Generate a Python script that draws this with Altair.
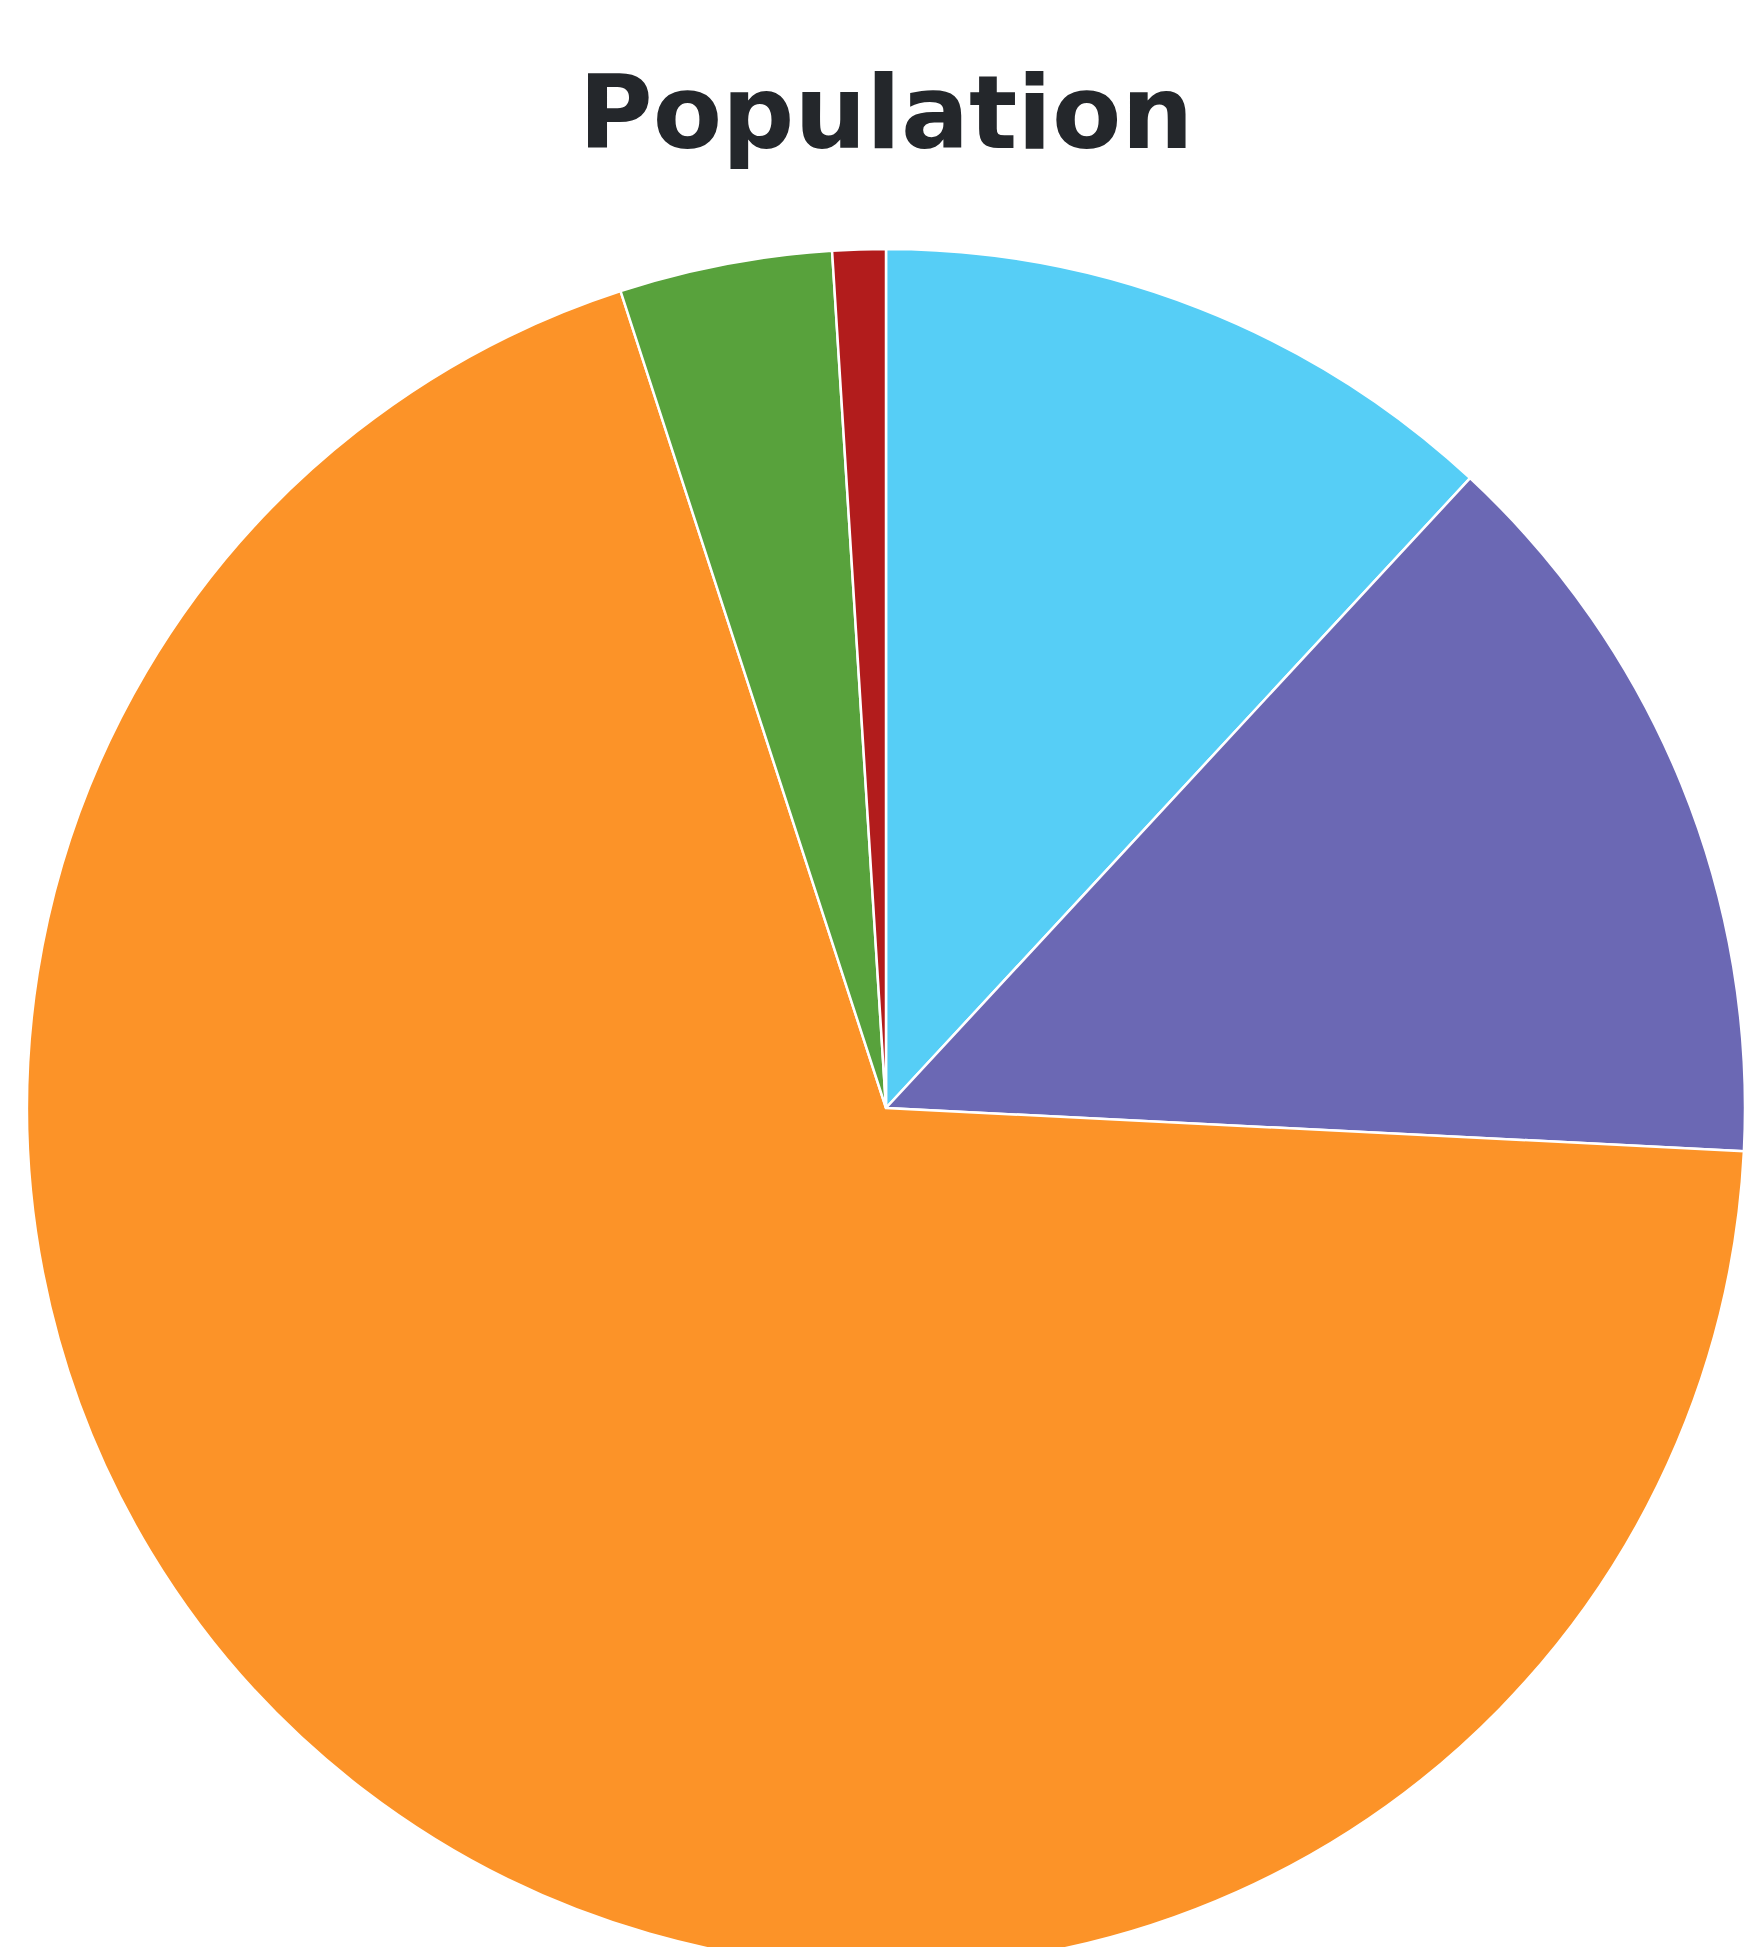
import altair as alt
import pandas as pd

categories = ["A", "B", "C", "D", "E"]
shares = [11.9, 13.9, 69.2, 4.0, 1.0]
colors = ["#56CEF6", "#6B68B4", "#FC9328", "#58A23C", "#B21C1C"]
title_text = ["Population"]

df = pd.DataFrame({"category": categories, "share": shares, "order": list(range(len(categories)))})
tdf = pd.DataFrame({"t": title_text})

W, H = 1736, 1939

pie = alt.Chart(df).mark_arc(outerRadius=859, stroke="white", strokeWidth=2.5).encode(
    theta=alt.Theta("share:Q", stack=True),
    color=alt.Color("category:N", scale=alt.Scale(domain=categories, range=colors), legend=None),
    order=alt.Order("order:Q"),
    x=alt.value(878),
    y=alt.value(1100),
)

title = alt.Chart(tdf).mark_text(
    font="DejaVu Sans", fontWeight="bold", fontSize=101, color="#24272b", baseline="alphabetic", align="center"
).encode(text="t:N", x=alt.value(878), y=alt.value(140))

chart = alt.layer(pie, title).properties(
    width=W, height=H, padding=0, autosize=alt.AutoSizeParams(type="none")
).configure_view(stroke=None)

chart.save("out.html", embed_options={"renderer": "svg", "actions": False})
